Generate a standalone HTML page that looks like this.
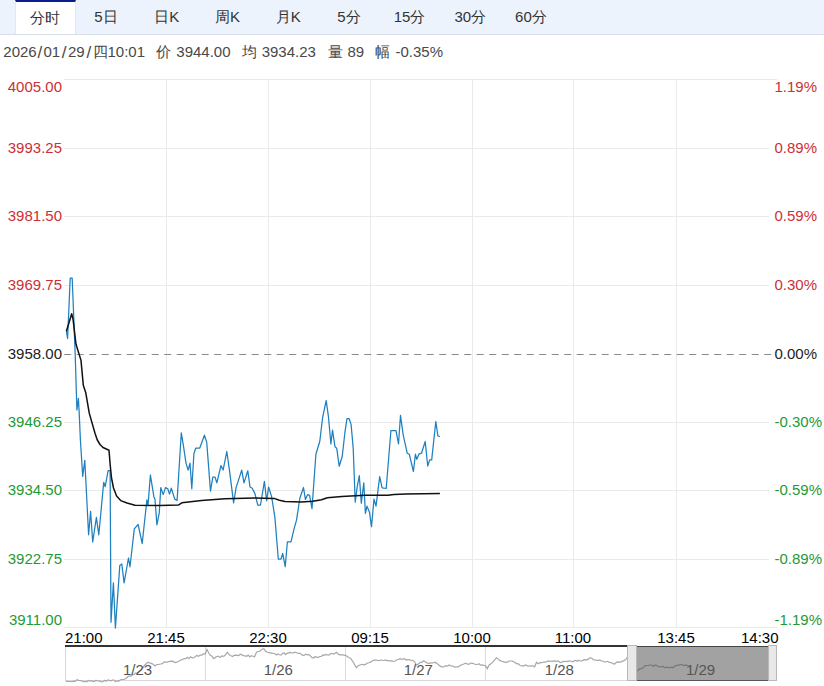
<!DOCTYPE html>
<html><head><meta charset="utf-8">
<style>
html,body{margin:0;padding:0;width:824px;height:686px;overflow:hidden;background:#fff;}
body{font-family:"Liberation Sans",sans-serif;position:relative;}
.tabs{position:absolute;left:0;top:0;width:824px;height:34px;background:#ecf3fd;border-bottom:1px solid #d8dee8;}
.tab{position:absolute;top:0;height:34px;width:60.7px;text-align:center;line-height:33px;font-size:15px;color:#333;}
.tab.on{background:#fff;border-top:2px solid #0a1d8f;box-sizing:border-box;height:34px;line-height:31px;border-left:1px solid #e3e8f0;border-right:1px solid #e3e8f0;}
.info span{position:absolute;top:43px;font-size:15px;line-height:18px;color:#484848;white-space:pre;}
.info span.sl{font-size:17px;top:44px;}
svg{position:absolute;left:0;top:0;}
svg text{font-family:"Liberation Sans",sans-serif;font-size:15px;}
</style></head><body>
<div class="tabs">
<div class="tab on" style="left:15.0px">分时</div>
<div class="tab" style="left:75.7px">5日</div>
<div class="tab" style="left:136.4px">日K</div>
<div class="tab" style="left:197.1px">周K</div>
<div class="tab" style="left:257.8px">月K</div>
<div class="tab" style="left:318.5px">5分</div>
<div class="tab" style="left:379.2px">15分</div>
<div class="tab" style="left:439.9px">30分</div>
<div class="tab" style="left:500.6px">60分</div>
</div>
<div class="info"><span style="left:3.3px">2026</span><span class="sl" style="left:37.6px">/</span><span style="left:43.5px">01</span><span class="sl" style="left:61.8px">/</span><span style="left:68.0px">29</span><span class="sl" style="left:86.6px">/</span><span style="left:93.3px">四</span><span style="left:107.5px">10:01</span><span style="left:156px">价</span><span style="left:176.3px">3944.00</span><span style="left:241.5px">均</span><span style="left:261.7px">3934.23</span><span style="left:327.7px">量</span><span style="left:347.5px">89</span><span style="left:375.2px">幅</span><span style="left:395.5px">-0.35%</span></div>
<svg width="824" height="686" viewBox="0 0 824 686">
<line x1="64" y1="79.5" x2="777" y2="79.5" stroke="#eaeaea" stroke-width="1"/>
<line x1="64" y1="148.5" x2="769" y2="148.5" stroke="#eaeaea" stroke-width="1"/>
<line x1="64" y1="216.5" x2="769" y2="216.5" stroke="#eaeaea" stroke-width="1"/>
<line x1="64" y1="285.5" x2="769" y2="285.5" stroke="#eaeaea" stroke-width="1"/>
<line x1="64" y1="422.5" x2="769" y2="422.5" stroke="#eaeaea" stroke-width="1"/>
<line x1="64" y1="490.5" x2="769" y2="490.5" stroke="#eaeaea" stroke-width="1"/>
<line x1="64" y1="559.5" x2="769" y2="559.5" stroke="#eaeaea" stroke-width="1"/>
<line x1="64" y1="627.5" x2="777" y2="627.5" stroke="#eaeaea" stroke-width="1"/>
<line x1="166.5" y1="79" x2="166.5" y2="628" stroke="#eaeaea" stroke-width="1"/>
<line x1="268.5" y1="79" x2="268.5" y2="628" stroke="#eaeaea" stroke-width="1"/>
<line x1="370.5" y1="79" x2="370.5" y2="628" stroke="#eaeaea" stroke-width="1"/>
<line x1="472.5" y1="79" x2="472.5" y2="628" stroke="#eaeaea" stroke-width="1"/>
<line x1="573.5" y1="79" x2="573.5" y2="628" stroke="#eaeaea" stroke-width="1"/>
<line x1="676.5" y1="79" x2="676.5" y2="628" stroke="#eaeaea" stroke-width="1"/>
<line x1="64.2" y1="354.5" x2="773" y2="354.5" stroke="#8a8a8a" stroke-width="1" stroke-dasharray="7,5.5"/>
<text x="62" y="91.5" text-anchor="end" fill="#cc3035">4005.00</text>
<text x="774.5" y="91.5" fill="#cc3035">1.19%</text>
<text x="62" y="153.0" text-anchor="end" fill="#cc3035">3993.25</text>
<text x="774.5" y="153.0" fill="#cc3035">0.89%</text>
<text x="62" y="221.0" text-anchor="end" fill="#cc3035">3981.50</text>
<text x="774.5" y="221.0" fill="#cc3035">0.59%</text>
<text x="62" y="290.0" text-anchor="end" fill="#cc3035">3969.75</text>
<text x="774.5" y="290.0" fill="#cc3035">0.30%</text>
<text x="62" y="359.0" text-anchor="end" fill="#222">3958.00</text>
<text x="774.5" y="359.0" fill="#222">0.00%</text>
<text x="62" y="427.0" text-anchor="end" fill="#1e9a36">3946.25</text>
<text x="774.5" y="427.0" fill="#1e9a36">-0.30%</text>
<text x="62" y="495.0" text-anchor="end" fill="#1e9a36">3934.50</text>
<text x="774.5" y="495.0" fill="#1e9a36">-0.59%</text>
<text x="62" y="564.0" text-anchor="end" fill="#1e9a36">3922.75</text>
<text x="774.5" y="564.0" fill="#1e9a36">-0.89%</text>
<text x="62" y="624.5" text-anchor="end" fill="#1e9a36">3911.00</text>
<text x="774.5" y="624.5" fill="#1e9a36">-1.19%</text>
<path d="M66.4,331.2 L67.6,338.5 L70.2,278.2 L72.2,278.2 L75.2,354.5 L76.9,410.0 L78.4,398.3 L79.2,412.9 L80.4,440.0 L82.7,476.4 L84.8,460.4 L88.6,534.8 L90.6,511.4 L92.7,542.0 L96.4,517.3 L98.8,534.8 L103.7,482.3 L105.2,486.6 L108.1,470.6 L110.1,470.6 L111.0,622.2 L113.4,582.9 L115.4,628.0 L119.8,565.4 L121.8,564.0 L124.1,582.9 L128.5,558.0 L130.0,566.8 L134.3,528.9 L138.1,524.5 L142.2,543.5 L146.9,499.8 L148.0,505.6 L150.4,475.0 L153.9,496.9 L155.0,499.3 L156.9,524.9 L159.2,513.2 L160.8,487.6 L163.2,494.6 L165.5,487.6 L167.8,488.8 L169.5,494.1 L171.3,488.1 L174.8,499.3 L177.1,500.4 L181.3,432.8 L183.4,445.6 L186.0,463.1 L188.1,470.1 L190.0,463.1 L191.8,488.8 L193.9,453.8 L195.8,448.0 L199.8,448.0 L204.4,435.2 L206.7,442.1 L210.5,491.1 L212.8,477.1 L215.1,477.1 L216.8,482.9 L221.0,465.5 L223.1,470.1 L226.8,451.5 L229.6,471.3 L233.6,502.8 L236.1,487.6 L241.7,470.1 L244.0,482.9 L247.8,470.8 L250.0,487.0 L252.2,488.3 L255.0,493.9 L257.8,505.0 L260.5,505.0 L264.4,481.4 L266.6,500.8 L268.6,487.0 L271.6,496.6 L274.9,517.4 L278.3,559.0 L281.0,559.0 L282.7,553.4 L285.2,566.7 L287.4,541.8 L291.0,541.8 L293.8,529.9 L296.5,520.2 L299.9,498.0 L303.5,487.5 L305.4,499.4 L307.6,494.7 L309.6,495.3 L312.0,508.6 L315.9,454.3 L319.8,441.2 L322.6,417.7 L326.2,400.5 L328.4,416.3 L330.9,444.0 L332.5,430.2 L335.0,446.8 L336.7,448.2 L339.2,466.2 L342.2,456.5 L345.0,431.7 L347.0,418.5 L349.1,418.5 L351.1,424.6 L353.2,448.1 L355.2,502.1 L357.2,486.8 L359.3,475.6 L361.3,503.2 L363.8,482.8 L365.4,513.4 L367.0,506.2 L369.5,512.3 L371.5,526.6 L374.0,499.1 L376.0,506.2 L379.7,476.6 L382.1,487.9 L386.2,488.5 L390.9,430.7 L396.0,430.7 L398.5,444.0 L400.5,415.4 L403.2,434.8 L407.2,453.2 L409.3,454.2 L413.4,471.5 L415.4,454.2 L416.8,459.3 L418.9,454.2 L421.5,453.2 L425.2,441.5 L427.7,466.0 L429.7,459.9 L431.7,459.9 L435.8,421.5 L437.9,435.8 L439.9,436.8" fill="none" stroke="#1f80c0" stroke-width="1.25" stroke-linejoin="round"/>
<path d="M66.4,331.2 L71.7,313.7 L73.1,319.6 L76.0,344.3 L81.0,360.4 L83.3,385.2 L85.7,392.4 L89.2,412.9 L95.0,433.3 L97.3,440.0 L100.0,444.5 L103.0,447.5 L109.0,450.3 L110.2,465.0 L111.5,478.0 L113.5,488.0 L116.6,496.0 L120.7,500.6 L127.0,503.0 L135.0,505.3 L160.0,505.5 L178.3,505.1 L181.8,502.8 L201.6,500.4 L224.9,498.8 L255.0,498.1 L274.2,498.4 L279.3,500.3 L285.1,501.5 L301.1,502.0 L312.8,501.3 L321.5,499.8 L327.3,497.7 L341.9,496.5 L360.0,495.5 L365.4,495.2 L387.9,495.3 L394.0,494.5 L406.2,494.0 L439.9,493.4" fill="none" stroke="#111" stroke-width="1.5" stroke-linejoin="round"/>
<text x="65.0" y="643" text-anchor="start" fill="#000">21:00</text>
<text x="166.0" y="643" text-anchor="middle" fill="#000">21:45</text>
<text x="268.0" y="643" text-anchor="middle" fill="#000">22:30</text>
<text x="370.0" y="643" text-anchor="middle" fill="#000">09:15</text>
<text x="472.0" y="643" text-anchor="middle" fill="#000">10:00</text>
<text x="573.0" y="643" text-anchor="middle" fill="#000">11:00</text>
<text x="676.0" y="643" text-anchor="middle" fill="#000">13:45</text>
<text x="778.5" y="643" text-anchor="end" fill="#000">14:30</text>
<rect x="65.5" y="646.5" width="711" height="34" fill="none" stroke="#d8d8d8" stroke-width="1"/>
<line x1="205.5" y1="647" x2="205.5" y2="681" stroke="#dcdcdc" stroke-width="1"/>
<line x1="345.5" y1="647" x2="345.5" y2="681" stroke="#dcdcdc" stroke-width="1"/>
<line x1="485.5" y1="647" x2="485.5" y2="681" stroke="#dcdcdc" stroke-width="1"/>
<path d="M65.8,681.3 L67.4,681.4 L69.0,681.5 L70.6,681.5 L72.2,681.6 L73.8,681.2 L75.4,681.4 L77.0,679.7 L78.6,680.4 L80.4,680.6 L82.2,681.0 L83.7,681.8 L85.2,681.3 L86.8,681.8 L88.3,680.4 L89.8,681.1 L91.3,680.7 L92.8,681.3 L94.3,681.3 L95.9,680.3 L97.4,680.7 L98.9,680.9 L100.4,681.3 L101.9,681.9 L103.4,681.5 L105.0,680.2 L106.5,681.2 L108.0,679.9 L109.5,680.4 L111.0,680.8 L112.5,680.0 L114.0,680.0 L115.6,681.7 L117.1,680.6 L118.6,681.3 L120.4,679.9 L122.3,679.5 L124.1,679.5 L126.0,678.4 L127.8,676.8 L129.3,675.8 L130.8,676.4 L132.3,675.0 L133.9,674.7 L135.4,673.2 L136.9,673.1 L138.4,672.4 L139.9,670.4 L141.4,669.4 L143.0,667.7 L144.5,665.2 L146.0,664.0 L147.8,662.2 L149.6,662.9 L151.4,663.4 L153.2,664.3 L155.0,665.9 L156.8,664.5 L158.7,664.3 L160.5,664.0 L162.3,663.6 L164.2,661.9 L166.0,662.2 L167.8,662.1 L169.6,661.3 L171.4,661.2 L173.2,661.4 L175.1,662.5 L176.9,662.2 L178.7,661.3 L180.6,660.1 L182.4,659.5 L184.2,658.6 L185.8,658.7 L187.3,657.3 L188.9,658.7 L190.4,656.7 L192.0,657.8 L193.5,657.7 L195.1,656.8 L196.8,655.5 L198.5,656.4 L200.1,655.2 L201.8,655.1 L203.5,653.6 L205.2,654.0 L207.0,649.5 L209.7,654.9 L211.7,655.9 L213.7,658.6 L216.4,656.8 L218.2,656.1 L220.1,657.4 L221.9,656.0 L223.7,656.4 L225.5,654.8 L227.3,652.2 L229.2,654.8 L231.0,655.8 L232.6,656.5 L234.1,655.3 L235.7,655.2 L237.2,655.3 L238.8,655.7 L240.3,654.3 L241.9,654.9 L243.5,655.6 L245.1,655.9 L246.7,656.3 L248.2,655.0 L249.8,656.9 L251.4,655.6 L253.0,656.3 L254.6,656.8 L256.5,652.2 L258.3,651.5 L260.1,651.2 L262.0,649.2 L263.8,648.6 L265.6,651.2 L267.4,652.2 L268.9,652.7 L270.4,652.8 L271.9,653.2 L273.5,653.4 L275.0,653.7 L276.5,654.9 L278.0,654.0 L279.5,654.8 L281.1,655.1 L282.6,653.4 L284.1,653.0 L285.6,654.4 L287.1,653.4 L288.6,652.9 L290.1,652.4 L291.7,652.8 L293.2,653.0 L294.7,652.2 L296.5,652.8 L298.4,653.4 L300.2,653.4 L302.0,654.9 L303.8,655.6 L305.6,654.1 L307.5,654.9 L309.3,654.9 L312.0,657.7 L313.6,658.0 L315.1,656.5 L316.6,657.3 L318.2,657.4 L319.8,656.5 L321.3,656.5 L322.9,655.0 L324.4,655.3 L325.9,654.5 L327.5,654.9 L329.0,655.1 L330.5,653.6 L332.1,653.5 L333.6,654.0 L335.1,653.3 L336.6,652.2 L338.5,654.4 L340.3,654.9 L342.1,654.9 L343.9,655.1 L345.7,655.3 L347.4,656.8 L349.2,657.5 L350.9,658.6 L352.7,661.3 L354.6,664.5 L356.4,667.7 L358.2,665.7 L360.0,665.0 L361.8,664.3 L363.6,664.9 L365.5,664.4 L367.3,663.1 L368.8,662.8 L370.3,662.1 L371.9,661.3 L373.4,660.3 L374.9,660.1 L376.4,660.0 L377.9,660.5 L379.4,660.7 L380.9,659.8 L382.5,660.5 L384.0,660.5 L385.5,660.0 L387.0,660.6 L388.5,660.7 L390.1,661.1 L391.6,660.6 L393.1,661.5 L394.6,661.3 L396.4,660.0 L398.3,659.5 L400.1,658.6 L401.6,659.2 L403.1,659.2 L404.6,658.7 L406.2,660.0 L407.7,659.6 L409.2,659.5 L411.0,660.5 L412.9,660.4 L414.7,662.2 L416.5,665.0 L418.3,664.0 L420.1,662.5 L422.0,662.2 L423.8,660.8 L425.6,661.9 L427.4,663.1 L429.2,663.4 L431.0,662.9 L432.9,663.0 L434.7,662.2 L436.5,663.1 L438.4,664.8 L440.2,666.1 L442.0,666.8 L443.8,666.9 L445.6,665.6 L447.5,666.0 L449.3,664.9 L451.1,666.0 L453.0,666.2 L454.8,667.2 L456.6,666.8 L458.4,666.9 L460.2,665.4 L462.1,664.8 L463.9,664.0 L465.7,663.2 L467.5,664.2 L469.3,664.1 L471.1,663.1 L472.7,663.3 L474.2,664.0 L475.8,664.3 L477.4,664.5 L479.0,663.8 L480.5,665.1 L482.1,664.9 L483.8,665.3 L485.5,665.5 L487.3,668.6 L489.1,664.9 L491.0,663.8 L492.8,662.2 L494.6,659.8 L496.4,657.7 L498.2,659.1 L500.1,660.6 L501.9,661.3 L503.7,661.8 L505.5,662.3 L507.3,662.2 L509.1,661.0 L511.0,661.0 L512.8,661.3 L514.6,662.2 L516.5,663.7 L518.3,663.9 L520.1,665.5 L521.9,665.9 L523.8,665.9 L525.6,665.0 L527.4,665.9 L529.2,666.1 L531.0,665.9 L532.8,665.8 L534.6,666.8 L536.5,662.2 L538.3,663.7 L540.1,662.7 L542.0,662.6 L543.8,662.0 L545.6,662.2 L547.1,661.4 L548.6,660.9 L550.2,661.4 L551.7,661.1 L553.2,661.2 L554.7,660.8 L556.5,661.3 L558.4,661.0 L560.2,662.6 L562.0,662.2 L563.5,661.2 L565.0,661.7 L566.5,661.4 L568.1,661.4 L569.6,660.8 L571.1,661.3 L572.7,661.8 L574.2,660.9 L575.8,660.3 L577.3,661.2 L578.9,660.2 L580.4,661.0 L582.0,660.8 L583.6,659.9 L585.3,659.7 L586.9,659.8 L588.6,658.9 L590.2,657.7 L591.8,658.2 L593.4,659.6 L595.0,660.0 L596.6,660.4 L598.2,660.3 L599.7,660.0 L601.3,661.0 L602.8,661.0 L604.4,661.9 L605.9,662.0 L607.5,661.3 L609.3,662.3 L611.2,662.6 L613.0,663.7 L614.8,664.0 L616.6,662.1 L618.5,661.9 L620.3,662.2 L622.1,661.4 L623.9,660.6 L625.7,659.5 L627.5,657.0" fill="none" stroke="#a8a8a8" stroke-width="1.2"/>
<rect x="636.5" y="646" width="132.5" height="35" fill="#a2a2a2"/>
<path d="M637.5,671.0 L639.3,669.1 L641.1,668.6 L643.0,667.8 L644.8,665.8 L646.5,665.5 L648.2,665.5 L649.9,665.0 L651.6,665.0 L653.3,666.2 L655.0,665.2 L656.6,665.3 L658.2,666.6 L659.8,666.8 L661.4,666.6 L663.1,666.3 L664.7,667.9 L666.3,667.3 L667.9,667.4 L669.5,667.9 L671.2,667.1 L672.9,667.7 L674.6,666.3 L676.4,665.4 L678.1,665.3 L679.8,664.8 L681.4,664.3 L683.1,665.4 L684.7,665.3 L686.4,665.2 L688.0,665.8" fill="none" stroke="#777" stroke-width="1.2"/>
<line x1="65" y1="646" x2="628" y2="646" stroke="#333" stroke-width="2"/>
<line x1="636" y1="646.5" x2="769" y2="646.5" stroke="#444" stroke-width="1.2"/>
<line x1="636" y1="680.5" x2="769" y2="680.5" stroke="#555" stroke-width="1"/>
<rect x="627.5" y="645.5" width="9" height="35" fill="#e8e8e8" stroke="#b8b8b8" stroke-width="1"/>
<rect x="768.5" y="645.5" width="8" height="35" fill="#e8e8e8" stroke="#b8b8b8" stroke-width="1"/>
<text x="137.5" y="674.5" text-anchor="middle" fill="#555">1/23</text>
<text x="278.3" y="674.5" text-anchor="middle" fill="#555">1/26</text>
<text x="418.3" y="674.5" text-anchor="middle" fill="#555">1/27</text>
<text x="559.3" y="674.5" text-anchor="middle" fill="#555">1/28</text>
<text x="700.5" y="674.5" text-anchor="middle" fill="#555">1/29</text>
</svg>
</body></html>
